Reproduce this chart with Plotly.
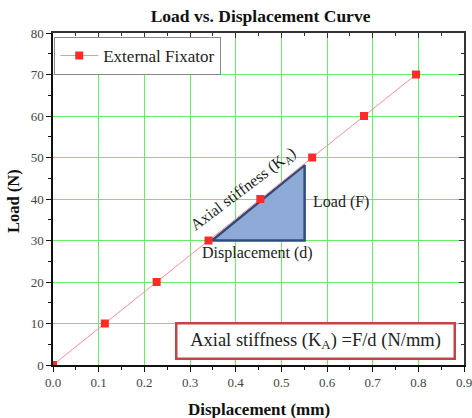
import plotly.graph_objects as go

displacement = [0.0, 0.1135, 0.227, 0.3405, 0.454, 0.5675, 0.681, 0.795]
load = [0, 10, 20, 30, 40, 50, 60, 70]
series_name = "External Fixator"

tri_x = [0.348, 0.551, 0.551, 0.348]
tri_y = [30, 48.2, 30, 30]

x_ticks = [0.0, 0.1, 0.2, 0.3, 0.4, 0.5, 0.6, 0.7, 0.8, 0.9]
y_ticks = [0, 10, 20, 30, 40, 50, 60, 70, 80]

FONT = "Liberation Serif"
GRID = "#66ee66"

fig = go.Figure()
fig.add_trace(go.Scatter(
    x=tri_x, y=tri_y, mode="lines", fill="toself",
    fillcolor="#8eaad6", line=dict(color="#2e4d7e", width=2.5),
    showlegend=False, hoverinfo="skip"))
fig.add_trace(go.Scatter(
    x=displacement, y=load, mode="lines+markers", name=series_name,
    line=dict(color="#ff9090", width=1),
    marker=dict(symbol="square", size=8, color="#ff2a2a"),
))

tickfont = dict(family=FONT, size=13, color="#444444")
fig.update_layout(
    width=472, height=418,
    margin=dict(l=53, r=8, t=33, b=53, autoexpand=False),
    paper_bgcolor="white", plot_bgcolor="white",
    font=dict(family=FONT, color="#222222"),
    title=dict(text="<b>Load vs. Displacement Curve</b>", x=0.505, xanchor="center",
               xref="paper", y=0.962, yanchor="middle",
               font=dict(family=FONT, size=17.5, color="#111111")),
    legend=dict(x=0.003, y=0.988, xanchor="left", yanchor="top",
                bordercolor="#888888", borderwidth=1, bgcolor="white",
                font=dict(family=FONT, size=17, color="#222222"),
                itemwidth=38),
    xaxis=dict(range=[0, 0.9], tickvals=x_ticks, ticktext=[f"{v:.1f}" for v in x_ticks],
               showgrid=True, gridcolor=GRID, gridwidth=1, zeroline=False,
               showline=True, linecolor="#111111", linewidth=1.5,
               ticks="outside", ticklen=5, tickcolor="#111111", automargin=False,
               ticklabeloverflow="allow",
               minor=dict(dtick=0.05, ticks="outside", ticklen=3, tickcolor="#111111", showgrid=False),
               tickfont=tickfont),
    yaxis=dict(range=[0, 80], tickvals=y_ticks,
               showgrid=True, gridcolor=GRID, gridwidth=1, zeroline=False,
               showline=True, linecolor="#111111", linewidth=1.5,
               ticks="outside", ticklen=5, tickcolor="#111111", automargin=False,
               minor=dict(dtick=5, ticks="outside", ticklen=3, tickcolor="#111111", showgrid=False),
               tickfont=tickfont),
    xaxis2=dict(range=[0, 0.9], overlaying="x", side="top", matches="x",
                tickvals=x_ticks, showticklabels=False, showgrid=False, zeroline=False,
                showline=True, linecolor="#333333", linewidth=1.5, automargin=False,
                ticks="inside", ticklen=5, tickcolor="#333333",
                minor=dict(dtick=0.05, ticks="inside", ticklen=3, tickcolor="#333333", showgrid=False)),
    yaxis2=dict(range=[0, 80], overlaying="y", side="right",
                tickvals=y_ticks, showticklabels=False, showgrid=False, zeroline=False,
                showline=True, linecolor="#333333", linewidth=1.5, automargin=False,
                ticks="inside", ticklen=5, tickcolor="#333333",
                minor=dict(dtick=5, ticks="inside", ticklen=3, tickcolor="#333333", showgrid=False)),
)
# dummy trace to activate overlay axes
fig.add_trace(go.Scatter(x=[None], y=[None], xaxis="x2", yaxis="y2", showlegend=False, hoverinfo="skip"))

fig.add_annotation(x=0.5, y=-0.1355, xref="paper", yref="paper", yanchor="middle",
                   text="<b>Displacement (mm)</b>", showarrow=False,
                   font=dict(family=FONT, size=17, color="#111111"))
fig.add_annotation(x=-0.095, y=0.494, xref="paper", yref="paper", xanchor="center",
                   text="<b>Load (N)</b>", textangle=-90, showarrow=False,
                   font=dict(family=FONT, size=16.5, color="#111111"))

ann_font = dict(family=FONT, size=16, color="#222222")
fig.add_annotation(x=0.4165, y=42.3, xref="x", yref="y", text="Axial stiffness (K<sub>A</sub>)",
                   textangle=-37, showarrow=False, font=ann_font)
fig.add_annotation(x=0.566, y=39.2, xref="x", yref="y", text="Load (F)", xanchor="left",
                   showarrow=False, font=ann_font)
fig.add_annotation(x=0.4475, y=27.0, xref="x", yref="y", text="Displacement (d)",
                   showarrow=False, font=ann_font)
fig.add_annotation(x=0.5755, y=5.8, xref="x", yref="y",
                   text="Axial stiffness (K<sub>A</sub>) =F/d (N/mm)",
                   width=266, align="center",
                   showarrow=False, font=dict(family=FONT, size=18.5, color="#222222"),
                   bordercolor="#c04644", borderwidth=2.5, borderpad=5, bgcolor="white")

fig.write_html("out.html", config={"displayModeBar": False},
               post_script="document.body.style.margin='0';document.body.style.overflow='hidden';")
